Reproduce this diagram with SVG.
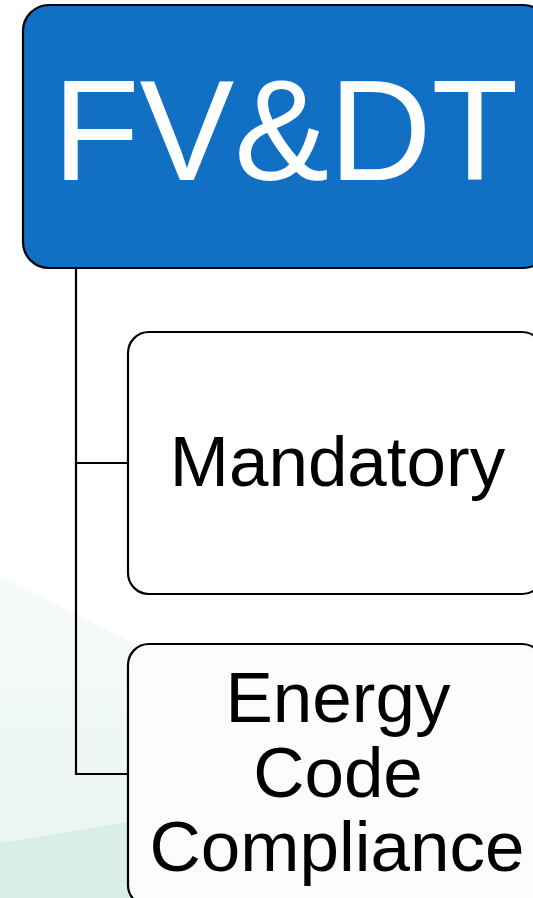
<svg xmlns="http://www.w3.org/2000/svg" width="533" height="898" viewBox="0 0 533 898">
  <defs>
    <linearGradient id="bgLight" x1="0" y1="0" x2="0" y2="1">
      <stop offset="0" stop-color="#f6fbfa"/>
      <stop offset="1" stop-color="#e9f4f1"/>
    </linearGradient>
    <style>
      .box { stroke: #000; stroke-width: 2.2; }
      .child { fill: #ffffff; }
      .lbl { font-family: "Liberation Sans", Arial, sans-serif; fill: #000; text-anchor: middle; font-size: 71px; }
      .conn { fill: none; stroke: #000; stroke-width: 2.2; }
    </style>
  </defs>
  <rect width="533" height="898" fill="#ffffff"/>
  <g id="background">
    <polygon points="0,575 533,846 533,898 0,898" fill="url(#bgLight)"/>
    <polygon points="0,843 533,756 533,898 0,898" fill="#d9eee8"/>
  </g>
  <g id="connectors">
    <path class="conn" d="M76 268 V463 H128"/>
    <path class="conn" d="M76 463 V774 H128"/>
  </g>
  <g id="node-fvdt">
    <rect class="box" x="23" y="5" width="526" height="263" rx="26" ry="26" fill="#1170c4"/>
    <text x="285.5" y="180" font-family="Liberation Sans, Arial, sans-serif" font-size="142" fill="#ffffff" text-anchor="middle">FV&amp;DT</text>
  </g>
  <g id="node-mandatory">
    <rect class="box child" x="128" y="332" width="415" height="262" rx="21" ry="21"/>
    <text class="lbl" x="337.5" y="486">Mandatory</text>
  </g>
  <g id="node-energy">
    <rect class="box" x="128" y="644" width="415" height="262" rx="21" ry="21" fill="#fbfdfc"/>
    <text class="lbl" x="338" y="722">Energy</text>
    <text class="lbl" x="338" y="797">Code</text>
    <text class="lbl" x="337" y="871">Compliance</text>
  </g>
</svg>
